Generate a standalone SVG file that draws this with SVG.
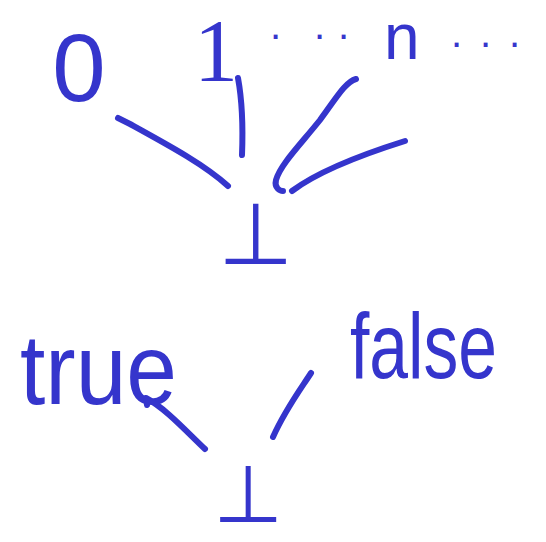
<svg xmlns="http://www.w3.org/2000/svg" width="546" height="542" viewBox="0 0 546 542">
<style>
.t{fill:#3535cc;font-family:"Liberation Sans",Arial,sans-serif}
.s{font-family:"Liberation Serif",serif}
.b{font-family:"DejaVu Sans",sans-serif}
.c{fill:none;stroke:#3535cc;stroke-width:6;stroke-linecap:round;stroke-linejoin:round}
</style>
<rect width="546" height="542" fill="#ffffff"/>
<g id="node-0"><text class="t" x="79" y="101" font-size="96" text-anchor="middle">0</text></g>
<g id="node-1"><text class="t s" x="216" y="80" font-size="88" text-anchor="middle">1</text></g>
<g id="dots-1"><text class="t" x="270 314 338" y="39" font-size="40">...</text></g>
<g id="node-n"><text class="t" x="384" y="59" font-size="64">n</text></g>
<g id="dots-n"><text class="t" x="451 480 509" y="47" font-size="40">...</text></g>
<g id="node-bottom-top"><text class="t b" x="256" y="264" font-size="86" text-anchor="middle">⊥</text></g>
<g id="node-true"><text class="t" x="20" y="404" font-size="100" textLength="157" lengthAdjust="spacingAndGlyphs">true</text></g>
<g id="node-false"><text class="t" x="350" y="378" font-size="92" textLength="147" lengthAdjust="spacingAndGlyphs">false</text></g>
<g id="node-bottom-bottom"><text class="t b" x="248" y="522" font-size="80" text-anchor="middle">⊥</text></g>
<g id="connectors">
<path class="c" d="M118,118 L130,124 C170,146 205,165 228,186"/>
<path class="c" d="M238,78 C242,100 243,130 242,155"/>
<path class="c" d="M356,79 C345,82 335,100 320,120 C300,145 280,165 276,180 C274,188 280,191 283,191"/>
<path class="c" d="M405,141 C370,152 320,170 292,191"/>
<path class="c" d="M147,405 L146,398 C165,408 185,430 205,449"/>
<path class="c" d="M311,373 C300,390 285,410 273,437"/>
</g>
</svg>
